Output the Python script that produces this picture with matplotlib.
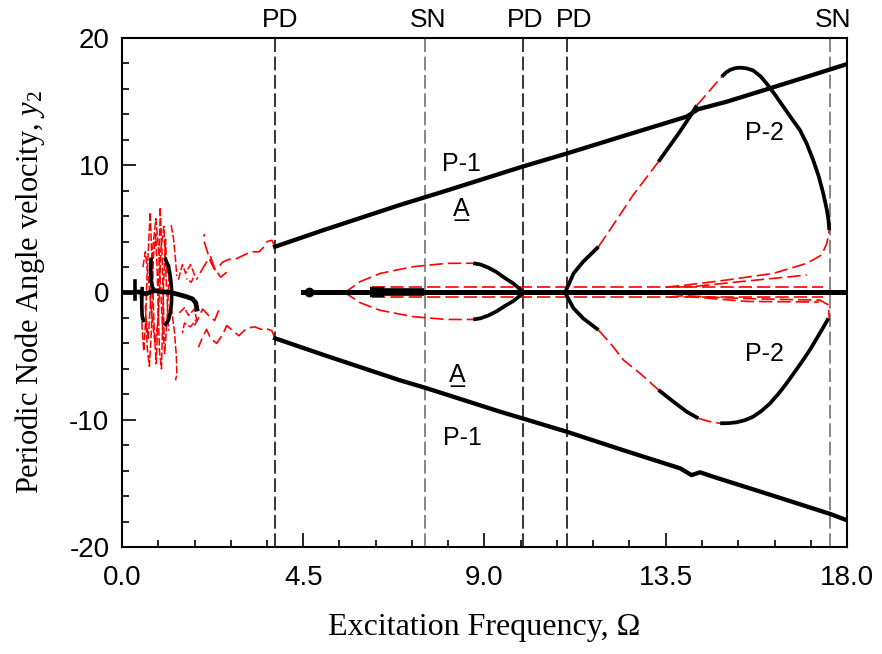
import matplotlib
matplotlib.use("Agg")
import matplotlib.pyplot as plt
from matplotlib.ticker import MultipleLocator, FixedLocator

plt.rcParams["font.family"] = ["Liberation Sans", "DejaVu Sans"]
plt.rcParams["axes.unicode_minus"] = False
plt.rcParams["mathtext.fontset"] = "custom"
plt.rcParams["mathtext.rm"] = "Liberation Serif"
plt.rcParams["mathtext.it"] = "Liberation Serif:italic"

# bifurcation points (vertical guides)
bif_x = [3.8, 7.52, 9.95, 11.04, 17.58]
bif_lab = ["PD", "SN", "PD", "PD", "SN"]
bif_lab_x = [3.92, 7.6, 10.02, 11.22, 17.66]
bif_col = ["black", "0.4", "black", "black", "0.4"]

# P-1 branches (stable, black)
p1_up_x = [3.8, 5.0, 6.9, 8.0, 9.95, 11.04, 12.5, 14.02, 14.3, 15.0, 16.09, 17.0, 18.0]
p1_up_y = [3.6, 4.9, 6.88, 7.95, 9.9, 10.92, 12.35, 13.82, 14.4, 14.98, 16.05, 16.95, 17.95]
p1_lo_x = [3.8, 5.0, 6.9, 7.52, 9.39, 9.95, 11.04, 12.5, 13.86, 14.14, 14.35, 14.68, 16.0, 17.58, 18.0]
p1_lo_y = [-3.6, -4.9, -6.9, -7.48, -9.37, -9.9, -10.94, -12.45, -13.82, -14.35, -14.13, -14.48, -15.8, -17.4, -17.9]

# centre branch near zero
zero_x = [4.5, 18.0]
zero_y = [0.0, 0.0]
zero_dot_x = [4.65]
zero_dot_y = [0.0]
block1_x = [6.16, 6.5]
block2_x = [6.5, 7.5]
red_zero_x = [4.5, 5.5]
band_up_x = [6.2, 17.4]
band_up_y = [0.42, 0.42]
band_lo_x = [6.2, 17.4]
band_lo_y = [-0.35, -0.35]

# lobe between SN and PD
lobe_up_red_x = [5.5, 5.62, 5.91, 6.41, 7.23, 8.06, 8.72]
lobe_up_red_y = [0.0, 0.19, 0.85, 1.5, 2.03, 2.29, 2.3]
lobe_up_blk_x = [8.72, 8.9, 9.1, 9.3, 9.5, 9.71, 9.85, 9.96]
lobe_up_blk_y = [2.3, 2.2, 1.95, 1.6, 1.15, 0.72, 0.35, 0.0]
lobe_lo_red_x = [5.5, 5.62, 5.91, 6.41, 7.23, 8.06, 8.72]
lobe_lo_red_y = [0.0, -0.19, -0.8, -1.4, -1.9, -2.12, -2.12]
lobe_lo_blk_x = [8.72, 8.9, 9.1, 9.3, 9.5, 9.71, 9.85, 9.96]
lobe_lo_blk_y = [-2.12, -2.03, -1.8, -1.48, -1.07, -0.68, -0.33, 0.0]

# P-2 upper
p2u_blk1_x = [11.0, 11.1, 11.21, 11.45, 11.83]
p2u_blk1_y = [0.0, 0.7, 1.5, 2.42, 3.6]
p2u_red1_x = [11.83, 12.28, 12.69, 13.32]
p2u_red1_y = [3.6, 5.7, 7.66, 10.28]
p2u_blk2_x = [13.32, 13.82, 14.1, 14.27]
p2u_blk2_y = [10.28, 12.5, 13.82, 14.7]
p2u_red2_x = [14.27, 14.6, 14.89]
p2u_red2_y = [14.7, 15.9, 16.96]
p2u_blk3_x = [14.89, 15.0, 15.1, 15.22, 15.34, 15.5, 15.67, 15.85, 16.0, 16.2, 16.42,
              16.62, 16.83, 17.0, 17.16, 17.3, 17.41, 17.5, 17.54, 17.56]
p2u_blk3_y = [16.96, 17.3, 17.5, 17.63, 17.67, 17.62, 17.45, 17.0, 16.44, 15.6, 14.6,
              13.7, 12.77, 11.7, 10.41, 9.1, 7.79, 6.5, 5.7, 4.9]

# P-2 lower
p2l_blk1_x = [11.0, 11.1, 11.21, 11.45, 11.83]
p2l_blk1_y = [0.0, -0.6, -1.24, -2.03, -2.95]
p2l_red1_x = [11.83, 12.16, 12.45, 12.86, 13.32]
p2l_red1_y = [-2.95, -4.13, -5.31, -6.35, -7.66]
p2l_blk2_x = [13.32, 13.69, 14.02, 14.31]
p2l_blk2_y = [-7.66, -8.58, -9.37, -9.89]
p2l_red2_x = [14.31, 14.6, 14.85]
p2l_red2_y = [-9.89, -10.15, -10.28]
p2l_blk3_x = [14.85, 15.05, 15.26, 15.47, 15.67, 15.88, 16.09, 16.3, 16.5, 16.7, 16.91,
              17.1, 17.25, 17.4, 17.54]
p2l_blk3_y = [-10.28, -10.27, -10.2, -10.03, -9.76, -9.3, -8.71, -7.95, -7.14, -6.25, -5.31,
              -4.4, -3.6, -2.8, -2.03]

# unstable fan near SN
fan1_x = [13.5, 14.02, 15.01, 16.17, 17.0, 17.37, 17.5, 17.56]
fan1_y = [0.42, 0.59, 0.98, 1.5, 2.29, 2.95, 3.86, 4.9]
fan2_x = [13.8, 14.27, 15.34, 16.3, 17.0]
fan2_y = [0.42, 0.5, 0.85, 1.15, 1.37]
fan3_x = [13.6, 13.94, 15.34, 16.5, 17.33, 17.54, 17.56]
fan3_y = [-0.35, -0.25, -0.46, -0.55, -0.6, -0.98, -2.03]
fan4_x = [14.0, 15.5, 17.3]
fan4_y = [-0.3, -0.7, -0.75]

# low-frequency region (x < PD1)
blk_zero_x = [0.0, 0.25, 0.4, 0.6, 0.8, 1.0, 1.2, 1.4, 1.6, 1.75, 1.83, 1.86]
blk_zero_y = [0.0, 0.0, 0.05, -0.1, 0.15, 0.05, 0.0, -0.15, -0.33, -0.5, -0.8, -1.3]
blk_sp1_x = [0.33, 0.33]
blk_sp1_y = [0.9, -0.5]
blk_sp2_x = [0.5, 0.49, 0.5, 0.53]
blk_sp2_y = [0.3, -0.9, -1.8, -2.2]
blk_arc1_x = [0.72, 0.71, 0.72, 0.76, 0.8]
blk_arc1_y = [2.6, 1.8, 0.9, 0.4, 0.2]
blk_arc2_x = [1.08, 1.15, 1.2, 1.23, 1.23, 1.2, 1.15, 1.08]
blk_arc2_y = [2.6, 2.1, 1.3, 0.3, -0.8, -1.6, -2.2, -2.5]

red_c1_x = [0.45, 0.5, 0.54, 0.58, 0.62, 0.66, 0.7, 0.75, 0.8, 0.85, 0.9, 0.95, 1.0, 1.05]
red_c1_y = [0.0, -2.8, -4.6, -2.6, 1.2, 3.8, 6.3, 2.0, -3.0, -5.6, -1.0, 6.7, 2.5, -3.8]
red_c2_x = [0.58, 0.63, 0.68, 0.73, 0.78, 0.84, 0.88, 0.93, 0.98, 1.03, 1.08, 1.12]
red_c2_y = [-1.0, -4.5, -5.8, -3.0, 2.8, 4.6, 1.0, -4.6, -6.0, 0.5, 4.2, 1.5]
red_c3_x = [0.52, 0.58, 0.66, 0.74, 0.82, 0.9, 0.97, 1.04, 1.1, 1.16]
red_c3_y = [2.0, 3.2, 1.0, -1.8, -4.0, -2.2, 3.6, 5.2, 0.8, -3.0]
red_c4_x = [1.22, 1.28, 1.33, 1.36]
red_c4_y = [5.3, 4.2, 2.5, 1.3]
red_c5_x = [1.22, 1.3, 1.35, 1.36, 1.33]
red_c5_y = [-1.1, -3.0, -5.0, -6.4, -6.9]
red_c6_x = [1.4, 1.5, 1.58, 1.7, 1.8, 1.72, 1.6]
red_c6_y = [1.0, 2.2, 1.5, 2.2, 1.4, 0.8, 1.1]
red_c7_x = [1.42, 1.55, 1.65, 1.8, 1.85, 1.7, 1.55, 1.5]
red_c7_y = [-1.6, -1.2, -1.8, -1.3, -2.1, -2.7, -2.4, -3.2]
red_c8_x = [0.6, 0.65, 0.7, 0.76, 0.84, 0.92, 1.0, 1.06, 1.12, 1.18]
red_c8_y = [-2.0, -3.6, -1.2, 3.4, 5.8, 3.0, -2.4, -4.8, -2.0, 2.2]
red_u1_x = [3.8, 3.72, 3.6, 3.5, 3.4, 3.2, 3.0, 2.8, 2.65, 2.5, 2.4, 2.3, 2.2, 2.1, 2.02, 2.05]
red_u1_y = [3.6, 4.1, 4.0, 3.5, 3.2, 3.2, 2.9, 2.6, 2.6, 2.4, 2.0, 1.8, 2.4, 3.4, 4.2, 4.6]
red_u2_x = [2.6, 2.45, 2.3, 2.2, 2.1, 1.95, 1.85]
red_u2_y = [1.6, 1.2, 1.9, 2.8, 2.4, 1.6, 1.0]
red_l1_x = [3.8, 3.72, 3.55, 3.45, 3.3, 3.1, 2.9, 2.75, 2.6, 2.5, 2.35, 2.2, 2.1, 2.0, 1.9]
red_l1_y = [-3.6, -3.0, -2.8, -2.9, -2.7, -2.8, -3.4, -3.0, -2.6, -3.3, -4.0, -3.6, -2.9, -3.5, -4.3]
red_l2_x = [2.4, 2.3, 2.15, 2.0, 1.9, 1.8]
red_l2_y = [-1.4, -2.2, -1.8, -1.3, -2.0, -2.6]

# labels
lab_txt = ["P-1", "P-1", "P-2", "P-2"]
lab_x = [8.42, 8.44, 15.94, 15.94]
lab_y = [10.1, -11.4, 12.5, -4.8]
a_x = [8.42, 8.33]
a_y = [6.0, -7.0]

fig = plt.figure(figsize=(8.82, 6.54), dpi=100)
ax = fig.add_axes([122 / 882, 1 - 547 / 654, 725 / 882, 509 / 654])

RED = dict(color="red", lw=1.2, ls=(0, (8, 3)), zorder=2)
BLK = dict(color="black", lw=2.7, solid_capstyle="butt", zorder=3)

for xs, ys in [(red_zero_x, zero_y), (band_up_x, band_up_y), (band_lo_x, band_lo_y),
               (lobe_up_red_x, lobe_up_red_y), (lobe_lo_red_x, lobe_lo_red_y),
               (p2u_red1_x, p2u_red1_y), (p2u_red2_x, p2u_red2_y),
               (p2l_red1_x, p2l_red1_y), (p2l_red2_x, p2l_red2_y),
               (fan1_x, fan1_y), (fan2_x, fan2_y), (fan3_x, fan3_y), (fan4_x, fan4_y),
               (red_u1_x, red_u1_y), (red_u2_x, red_u2_y),
               (red_l1_x, red_l1_y), (red_l2_x, red_l2_y)]:
    ax.plot(xs, ys, **RED)
for xs, ys in [(red_c1_x, red_c1_y), (red_c2_x, red_c2_y), (red_c3_x, red_c3_y),
               (red_c4_x, red_c4_y), (red_c5_x, red_c5_y), (red_c6_x, red_c6_y),
               (red_c7_x, red_c7_y), (red_c8_x, red_c8_y)]:
    ax.plot(xs, ys, color="red", lw=1.1, ls=(0, (5, 1.5)), zorder=2)

ax.plot(p1_up_x, p1_up_y, color="black", lw=3.1, zorder=3)
ax.plot(p1_lo_x, p1_lo_y, color="black", lw=3.1, zorder=3)
ax.plot(zero_x, zero_y, color="black", lw=3.6, zorder=3)
ax.plot(block1_x, zero_y, color="black", lw=7.5, solid_capstyle="butt", zorder=3)
ax.plot(block2_x, zero_y, color="black", lw=5.5, solid_capstyle="butt", zorder=3)
ax.plot(zero_dot_x, zero_dot_y, "o", color="black", ms=6, zorder=4)
for xs, ys in [(lobe_up_blk_x, lobe_up_blk_y), (lobe_lo_blk_x, lobe_lo_blk_y),
               (p2u_blk1_x, p2u_blk1_y), (p2u_blk2_x, p2u_blk2_y), (p2u_blk3_x, p2u_blk3_y),
               (p2l_blk1_x, p2l_blk1_y), (p2l_blk2_x, p2l_blk2_y), (p2l_blk3_x, p2l_blk3_y)]:
    ax.plot(xs, ys, **BLK)
ax.plot(blk_zero_x, blk_zero_y, color="black", lw=3.4, zorder=3)
for xs, ys in [(blk_sp1_x, blk_sp1_y), (blk_sp2_x, blk_sp2_y),
               (blk_arc1_x, blk_arc1_y), (blk_arc2_x, blk_arc2_y)]:
    ax.plot(xs, ys, color="black", lw=2.6, zorder=3)

for bx, lx, lab, col in zip(bif_x, bif_lab_x, bif_lab, bif_col):
    ax.axvline(bx, color=col, lw=1.1, ls=(0, (9, 3)), zorder=1)
    ax.text(lx, 20.45, lab, ha="center", va="bottom", fontsize=19, clip_on=False)

for t, x, y in zip(lab_txt, lab_x, lab_y):
    ax.text(x, y, t, ha="center", va="center", fontsize=18)
for x, y in zip(a_x, a_y):
    ax.text(x, y, "A", ha="center", va="baseline", fontsize=18)
    ax.text(x, y, "_", ha="center", va="baseline", fontsize=18)

ax.set_xlim(0, 18)
ax.set_ylim(-20, 20)
ax.xaxis.set_major_locator(FixedLocator([0, 4.5, 9, 13.5, 18]))
ax.xaxis.set_minor_locator(MultipleLocator(0.9))
ax.yaxis.set_major_locator(MultipleLocator(10))
ax.yaxis.set_minor_locator(MultipleLocator(2))
ax.set_xticklabels(["0.0", "4.5", "9.0", "13.5", "18.0"])
ax.tick_params(which="both", direction="in", top=False, right=False, labelsize=20, width=1.2)
ax.tick_params(axis="x", which="major", length=10, pad=13)
ax.tick_params(axis="y", which="major", length=10, pad=9)
ax.tick_params(which="minor", length=5)
for s in ax.spines.values():
    s.set_linewidth(1.5)

ax.set_xlabel("Excitation Frequency, \u03a9", family="Liberation Serif", fontsize=23, labelpad=16)
ax.set_ylabel("Periodic Node Angle velocity, $y_2$", family="Liberation Serif", fontsize=22, labelpad=16)

fig.savefig("out.png", dpi=100)
